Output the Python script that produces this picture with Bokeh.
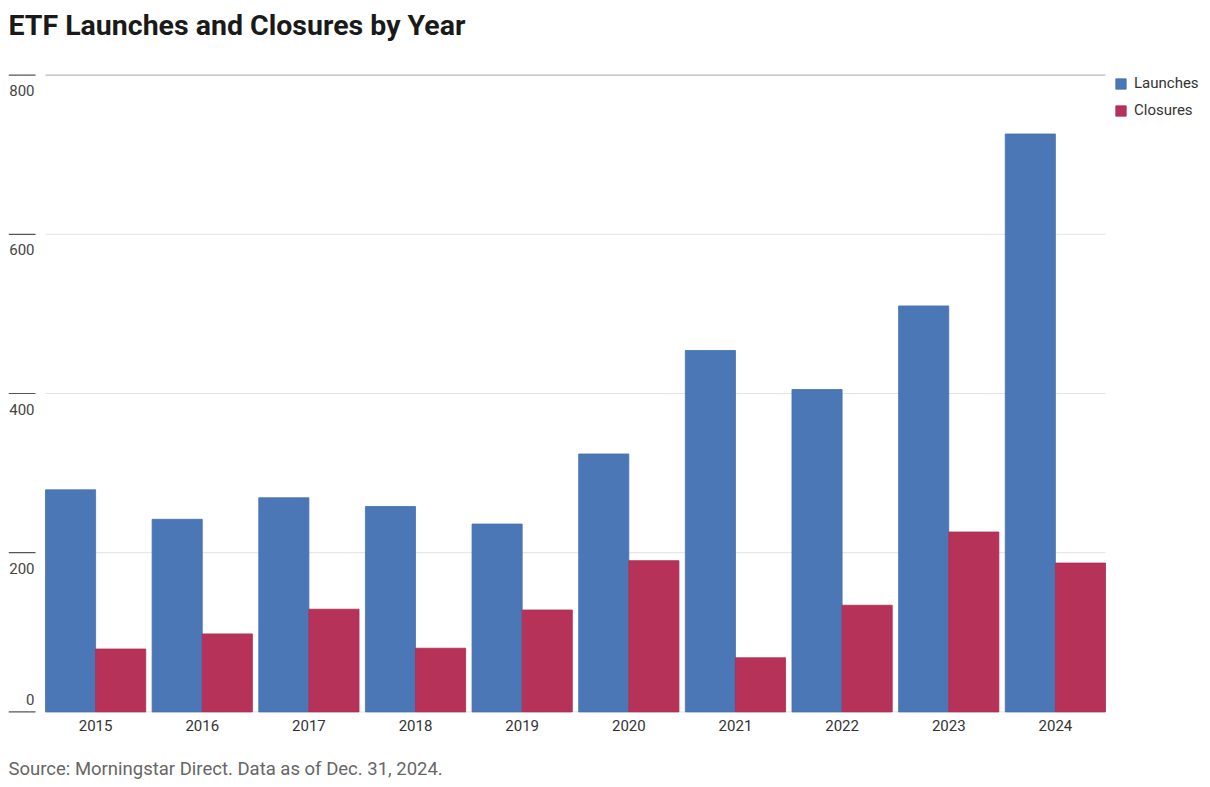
from bokeh.plotting import figure
from bokeh.models import ColumnDataSource, FixedTicker, Legend, LegendItem, Title, Range1d
from bokeh.embed import file_html
from bokeh.resources import INLINE
from bokeh.core.properties import value

# ---- data ----
years = ["2015", "2016", "2017", "2018", "2019", "2020", "2021", "2022", "2023", "2024"]
launches = [279, 242, 269, 258, 236, 324, 454, 405, 510, 726]
closures = [79, 98, 129, 80, 128, 190, 68, 134, 226, 187]
y_ticks = [0, 200, 400, 600, 800]
y_tick_labels = ["0", "200", "400", "600", "800"]

# ---- style ----
FONT = "Roboto"
BLUE = "#4b77b6"
RED = "#b63259"
BAR_W = 0.47

n = len(years)
idx = list(range(n))
left = -BAR_W
right = n - 1 + BAR_W
FRAME_W = 1194
PLOT_SPAN_PX = 1060   # from first bar edge to last bar edge
LEFT_PAD_PX = 37      # frame left to first bar edge
sx = PLOT_SPAN_PX / (right - left)
x_start = left - LEFT_PAD_PX / sx
x_end = x_start + FRAME_W / sx

SY = 637 / 800
YPAD = 2
y_start = 0 - YPAD
y_end = 800 + YPAD
FRAME_H = round((y_end - y_start) * SY)

p = figure(frame_width=FRAME_W, frame_height=FRAME_H,
           x_range=Range1d(x_start, x_end), y_range=Range1d(y_start, y_end),
           y_axis_location=None, toolbar_location=None, output_backend="svg",
           min_border_left=8, min_border_right=8, min_border_top=71, min_border_bottom=0)
p.outline_line_color = None
p.xgrid.visible = False
p.ygrid.visible = False
p.background_fill_color = "white"
p.border_fill_color = "white"

# title
p.title.text = "ETF Launches and Closures by Year"
p.title.text_font = FONT
p.title.text_font_size = "28.5px"
p.title.text_font_style = "bold"
p.title.text_color = "#1a1a1a"
p.title.align = "left"
p.title.vertical_align = "top"
p.title.offset = 0
p.title.standoff = 17

# spacer between title and plot frame
spacer = Title(text=" ", text_font_size="1px", standoff=18)
p.add_layout(spacer, "above")

# gridlines
grid_src = ColumnDataSource(dict(
    y=y_ticks,
    x0=[left] * len(y_ticks),
    x1=[right] * len(y_ticks),
    color=["#a6a6a6" if t == max(y_ticks) else "#e3e3e3" for t in y_ticks],
))
p.segment(x0="x0", x1="x1", y0="y", y1="y", line_color="color", line_width=1, source=grid_src)

# short tick marks on left
tick_src = ColumnDataSource(dict(
    y=y_ticks,
    x0=[x_start] * len(y_ticks),
    x1=[x_start + 27 / sx] * len(y_ticks),
))
p.segment(x0="x0", x1="x1", y0="y", y1="y", line_color="#555555", line_width=1.2, source=tick_src)

# y tick labels
lab_src = ColumnDataSource(dict(
    y=y_ticks,
    text=y_tick_labels,
    x=[x_start + 26 / sx] * len(y_ticks),
    baseline=["alphabetic" if t == 0 else "top" for t in y_ticks],
    yoff=[-12 if t == 0 else 10 for t in y_ticks],
))
p.text(x="x", y="y", text="text", source=lab_src, text_align="right",
       text_baseline="baseline", y_offset="yoff",
       text_font=value(FONT), text_font_size="15px", text_color="#444444")

# bars
src = ColumnDataSource(dict(
    xl=[i - BAR_W / 2 for i in idx],
    xc=[i + BAR_W / 2 for i in idx],
    launches=launches,
    closures=closures,
))
r1 = p.vbar(x="xl", top="launches", bottom=0, width=BAR_W, source=src,
            fill_color=BLUE, line_color="#4570ad", line_width=0.8)
r2 = p.vbar(x="xc", top="closures", bottom=0, width=BAR_W, source=src,
            fill_color=RED, line_color="#a92d52", line_width=0.8)

# x axis
ax = p.xaxis[0]
ax.ticker = FixedTicker(ticks=idx)
ax.major_label_overrides = {i: y for i, y in zip(idx, years)}
ax.axis_line_color = None
ax.major_tick_line_color = None
ax.minor_tick_line_color = None
ax.major_label_standoff = 0
ax.major_label_text_font = FONT
ax.major_label_text_font_size = "15px"
ax.major_label_text_color = "#333333"

# legend
legend = Legend(items=[LegendItem(label="Launches", renderers=[r1]),
                       LegendItem(label="Closures", renderers=[r2])],
                location=(1106, FRAME_H - 46), orientation="vertical",
                padding=0, margin=0, spacing=9,
                glyph_width=13, glyph_height=13, label_height=14,
                label_standoff=7,
                label_text_font=FONT, label_text_font_size="15px",
                label_text_color="#333333",
                border_line_color=None, background_fill_alpha=0)
p.add_layout(legend)

# source note
src_note = Title(text="Source: Morningstar Direct. Data as of Dec. 31, 2024.",
                 align="left", text_font=FONT, text_font_size="18.5px",
                 text_font_style="normal", text_color="#666666", standoff=45)
p.add_layout(src_note, "below")

open("out.html", "w").write(file_html(p, INLINE))
